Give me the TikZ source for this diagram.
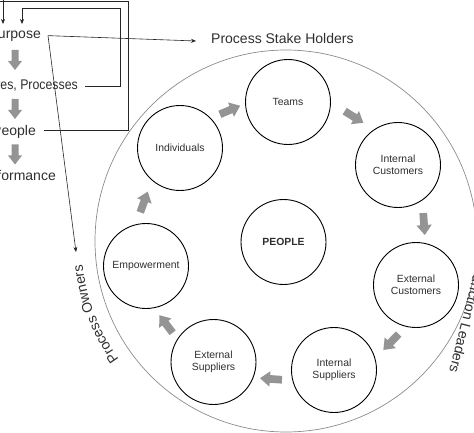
\documentclass[tikz,border=0pt]{standalone}
\usepackage{fontspec}
\setmainfont{Liberation Sans}
\usetikzlibrary{arrows.meta,decorations.text}
\definecolor{agray}{gray}{0.58}
\definecolor{ringgray}{gray}{0.55}
\definecolor{txtgray}{gray}{0.18}
\newcommand{\blkarrow}[3]{%
  \fill[agray, shift={#1}, rotate=#2, scale=#3]
    (-10,-3.5) -- (1,-3.5) -- (1,-7) -- (10,0) -- (1,7) -- (1,3.5) -- (-10,3.5) -- cycle;}
\begin{document}
\begin{tikzpicture}[x=1pt,y=-1pt,
  lbl/.style={font=\fontsize{14}{16}\selectfont, text=txtgray, inner sep=0pt},
  cnode/.style={circle, draw=black, line width=0.9pt, minimum size=85pt, inner sep=0pt,
                align=center, font=\fontsize{10.4}{12.5}\selectfont, text=txtgray},
  conn/.style={draw=black!85, line width=0.6pt},
  tip/.style={-{Stealth[length=5pt,width=4pt]}},
  arctext/.style={decorate, decoration={text along path, text color=txtgray,
                  text format delimiters={|}{|}}},
  ]
\useasboundingbox (0,0) rectangle (474,433);
\clip (0,0) rectangle (474,433);

% big ring
\node[circle, draw=ringgray, line width=0.7pt, minimum size=382pt, inner sep=0pt] (ring) at (286,241) {};

% left column texts
\node[lbl, anchor=base east] (purpose) at (41,39) {Purpose};
\node[lbl, anchor=base east] (struct) at (78,90) {\addfontfeatures{FakeStretch=0.88}Structures, Processes};
\node[lbl, anchor=base east] (people) at (36,136) {People};
\node[lbl, anchor=base east] (perf) at (56,180) {Performance};

% outer labels
\node[lbl, anchor=base west] (psh) at (211,44) {Process Stake Holders};
\path[arctext, decoration={text={|\fontsize{14}{16}\selectfont|Process Owners}, text align=center}]
  ([shift={(139:205)}]ring.center) arc[start angle=139, end angle=179, radius=205];
\node[lbl, rotate=-104, anchor=east] (leaders) at (454,373) {Function Leaders};

% left column gray arrows
\blkarrow{(15,60)}{-90}{1}
\blkarrow{(15,109)}{-90}{1}
\blkarrow{(15,154.5)}{-90}{1}

% connector coordinates
\coordinate (pa) at ([xshift=7pt]purpose.east);
\coordinate (sa) at ([xshift=7pt]struct.east);
\coordinate (pe) at ([xshift=8pt,yshift=2pt]people.east);
\coordinate (loopR) at (120,8);
\coordinate (loopL) at (22,8);
\coordinate (loopEnd) at (22,24);
\coordinate (topIn) at (3,-2);
\coordinate (topEnd) at (3,24);
\coordinate (fTL) at (-2,1);
\coordinate (fTR) at (128,1);
\coordinate (fBR) at (128,130);
\coordinate (pshTip) at ([xshift=-15pt,yshift=-2pt]psh.west);
\coordinate (ownTip) at (76,252);

% connectors
\draw[conn,tip] (sa) -| (loopR) -- (loopL) -- (loopEnd);
\draw[conn,tip] (topIn) -- (topEnd);
\draw[conn] (pe) -- (pe -| fBR) -- (fTR) -- (fTL);
\draw[conn,tip] (pa) -- (pshTip);
\draw[conn,tip] (pa) -- (ownTip);

% circles
\node[cnode] (teams) at (288,102) {Teams};
\node[cnode] (intc) at (398,165) {Internal\\Customers};
\node[cnode] (extc) at (416,285) {External\\Customers};
\node[cnode] (ints) at (334,370) {Internal\\Suppliers};
\node[cnode] (exts) at (213.5,362) {External\\Suppliers};
\node[cnode] (emp) at (146,266) {Empowerment};
\node[cnode] (ind) at (180,148) {Individuals};
\node[cnode, font=\fontsize{10.4}{12.5}\selectfont\bfseries] (peoplec) at (283.5,242) {PEOPLE};

% ring gray arrows
\blkarrow{(230,110)}{23}{1.1}
\blkarrow{(354,117)}{-32}{1.1}
\blkarrow{(424,224)}{-86}{1.1}
\blkarrow{(391,342)}{-134}{1.1}
\blkarrow{(271,379)}{176}{1.1}
\blkarrow{(166,324)}{127}{1.1}
\blkarrow{(144,202)}{70}{1.1}
\end{tikzpicture}
\end{document}
